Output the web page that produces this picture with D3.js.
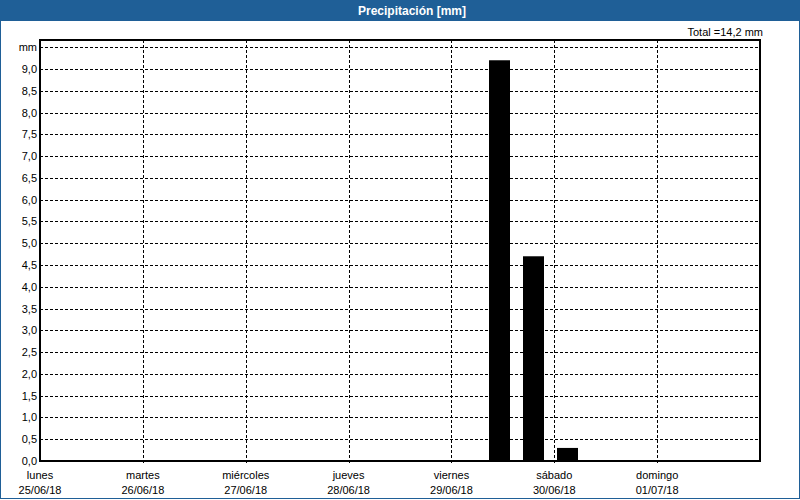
<!DOCTYPE html>
<html><head><meta charset="utf-8">
<script src="https://cdn.jsdelivr.net/npm/d3@7"></script>
<style>body{margin:0;background:#fff}svg{display:block}</style>
</head><body>
<script>
const title = "Precipitación [mm]";
const totalLabel = "Total =14,2 mm";
const dayNames = ["lunes","martes","miércoles","jueves","viernes","sábado","domingo"];
const dayDates = ["25/06/18","26/06/18","27/06/18","28/06/18","29/06/18","30/06/18","01/07/18"];
// 8-hour bins from 25/06/18 00:00 to 02/07/18 00:00 (21 bins)
const binValues = [0,0,0, 0,0,0, 0,0,0, 0,0,0, 0,9.2,4.7, 0.3,0,0, 0,0,0];
const yTicks = [0,0.5,1,1.5,2,2.5,3,3.5,4,4.5,5,5.5,6,6.5,7,7.5,8,8.5,9];
const yUnit = "mm";

const W = 800, H = 500;
const L = 40, R = 760, T = 40, B = 461;
const font = "Liberation Sans, Arial, sans-serif";

const svg = d3.select("body").append("svg").attr("width", W).attr("height", H)
  .style("font-family", font);

// frame
svg.append("rect").attr("x",0.5).attr("y",0.5).attr("width",W-1).attr("height",H-2)
  .attr("fill","#fff").attr("stroke","#1f5f97");
svg.append("rect").attr("x",0).attr("y",0).attr("width",W).attr("height",21).attr("fill","#1f5f97");
svg.append("text").attr("x",412).attr("y",15).attr("text-anchor","middle")
  .attr("fill","#fff").attr("font-weight","bold").attr("font-size","12px").text(title);
svg.append("text").attr("x",763).attr("y",36).attr("text-anchor","end")
  .attr("font-size","11px").attr("fill","#000").text(totalLabel);

const start = new Date(2018,5,25);
const end = new Date(2018,6,2);
const x = d3.scaleTime().domain([start,end]).range([L,R]);
const y = d3.scaleLinear().domain([0,9.5]).range([B,47.2]);

const days = d3.range(7).map(i => d3.timeDay.offset(start,i));
const bins = binValues.map((v,i) => ({t0:d3.timeHour.offset(start,i*8), t1:d3.timeHour.offset(start,(i+1)*8), v}));

const g = svg.append("g");
// horizontal grid
g.selectAll("line.hg").data(yTicks.concat([9.5])).join("line")
  .attr("x1",L).attr("x2",R).attr("y1",d=>Math.round(y(d))+0.5).attr("y2",d=>Math.round(y(d))+0.5)
  .attr("stroke","#000").attr("stroke-dasharray","3,2").attr("shape-rendering","crispEdges");
// vertical grid
g.selectAll("line.vg").data(days.slice(1)).join("line")
  .attr("x1",d=>Math.round(x(d))+0.5).attr("x2",d=>Math.round(x(d))+0.5).attr("y1",T).attr("y2",B+4)
  .attr("stroke","#000").attr("stroke-dasharray","3,2").attr("shape-rendering","crispEdges");

// bars
g.selectAll("rect.bar").data(bins.filter(b=>b.v>0)).join("rect")
  .attr("x",d=>Math.round(x(d.t0))+3).attr("width",21)
  .attr("y",d=>y(d.v)).attr("height",d=>B-y(d.v)).attr("fill","#000");

// box
svg.append("rect").attr("x",L).attr("y",T).attr("width",R-L).attr("height",B-T)
  .attr("fill","none").attr("stroke","#000").attr("stroke-width",2);

// y labels
svg.selectAll("text.yl").data(yTicks).join("text")
  .attr("x",37).attr("y",d=>y(d)+4).attr("text-anchor","end").attr("font-size","11px")
  .text(d=>d3.format(".1f")(d).replace(".",","));
svg.append("text").attr("x",37).attr("y",y(9.5)+4).attr("text-anchor","end").attr("font-size","11px").text(yUnit);

// x labels
const xl = svg.selectAll("g.xl").data(days).join("g").attr("transform",d=>`translate(${x(d)},0)`);
xl.append("text").attr("y",479).attr("text-anchor","middle").attr("font-size","11px").text((d,i)=>dayNames[i]);
xl.append("text").attr("y",494).attr("text-anchor","middle").attr("font-size","11px").text((d,i)=>dayDates[i]);
</script>
</body></html>
